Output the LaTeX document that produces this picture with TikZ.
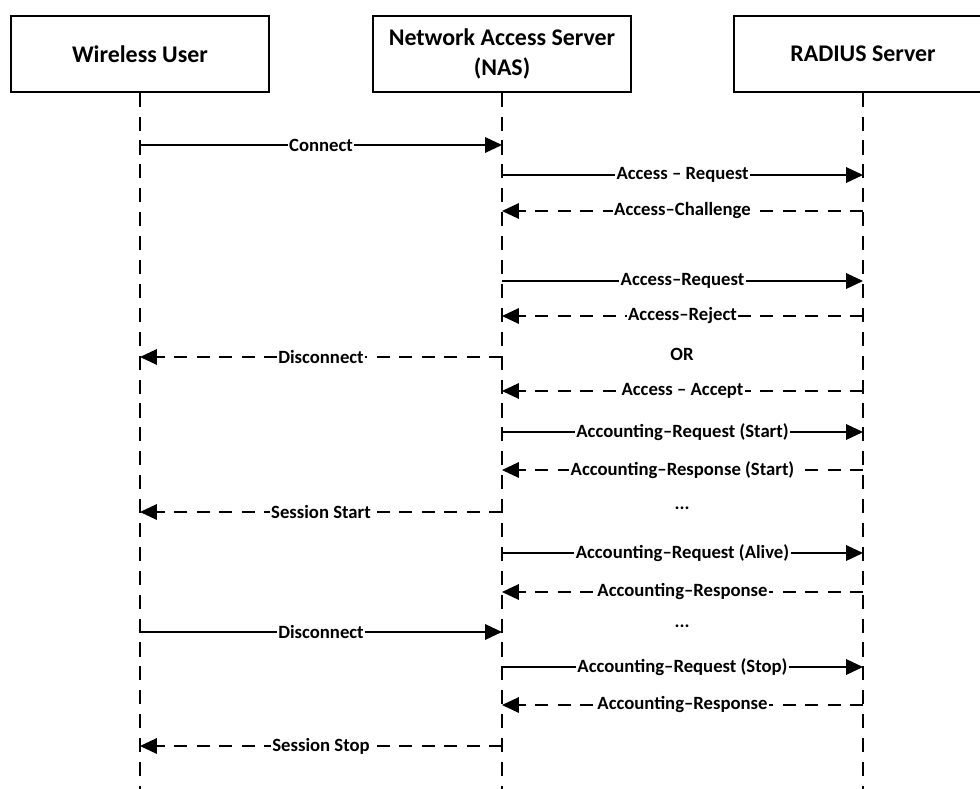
\documentclass[tikz,border=0pt]{standalone}
\usepackage{fontspec}
\setmainfont{Carlito}
\usetikzlibrary{arrows.meta}
\begin{document}
\begin{tikzpicture}[x=0.025cm, y=-0.025cm, line width=1.2pt,
    main/.style = {draw, line width=1.5pt, minimum width=6.45cm, minimum height=1.88cm, align=center, font=\bfseries\fontsize{17}{21}\selectfont},
    life/.style = {dash pattern=on 10pt off 7pt},
    msg/.style = {-{Triangle[length=12pt,width=11pt]}},
    reply/.style = {msg, dash pattern=on 9pt off 7pt},
    lbl/.style = {fill=white, inner sep=1pt, font=\bfseries\fontsize{13.3}{16}\selectfont}]
  \clip (0,0) rectangle (980,789);
  \node[main] (wu) at (140,54) {Wireless User};
  \node[main] (nas) at (502,54) {Network Access Server\\(NAS)};
  \node[main] (rad) at (863,54) {RADIUS Server};

  \foreach \n in {wu, nas, rad}
    \draw[life] (\n.south) -- (\n.south |- 0,789);

  \draw[msg] (wu |- 0,145) -- node[lbl] {Connect} (nas |- 0,145);
  \draw[msg] (nas |- 0,175) -- node[lbl] {Access -- Request} (rad |- 0,175);
  \draw[reply] (rad |- 0,211) -- node[lbl] {Access--Challenge} (nas |- 0,211);

  \draw[msg] (nas |- 0,281) -- node[lbl] {Access--Request} (rad |- 0,281);
  \draw[reply] (rad |- 0,316) -- node[lbl] {Access--Reject} (nas |- 0,316);
  \draw[reply] (nas |- 0,357) -- node[lbl] {Disconnect} (wu |- 0,357);
  \node[lbl] (or) at (682,354) {OR};
  \draw[reply] (rad |- 0,391) -- node[lbl] {Access -- Accept} (nas |- 0,391);

  \draw[msg] (nas |- 0,432) -- node[lbl] {Accounting--Request (Start)} (rad |- 0,432);
  \draw[reply] (rad |- 0,470) -- node[lbl] {Accounting--Response (Start)} (nas |- 0,470);
  \draw[reply] (nas |- 0,512) -- node[lbl] {Session Start} (wu |- 0,512);
  \node[lbl] (dots1) at (682,508) {...};

  \draw[msg] (nas |- 0,553) -- node[lbl] {Accounting--Request (Alive)} (rad |- 0,553);
  \draw[reply] (rad |- 0,592) -- node[lbl] {Accounting--Response} (nas |- 0,592);
  \draw[msg] (wu |- 0,632) -- node[lbl] {Disconnect} (nas |- 0,632);
  \node[lbl] (dots2) at (682,626) {...};

  \draw[msg] (nas |- 0,667) -- node[lbl] {Accounting--Request (Stop)} (rad |- 0,667);
  \draw[reply] (rad |- 0,705) -- node[lbl] {Accounting--Response} (nas |- 0,705);
  \draw[reply] (nas |- 0,746) -- node[lbl] {Session Stop} (wu |- 0,746);
\end{tikzpicture}
\end{document}
